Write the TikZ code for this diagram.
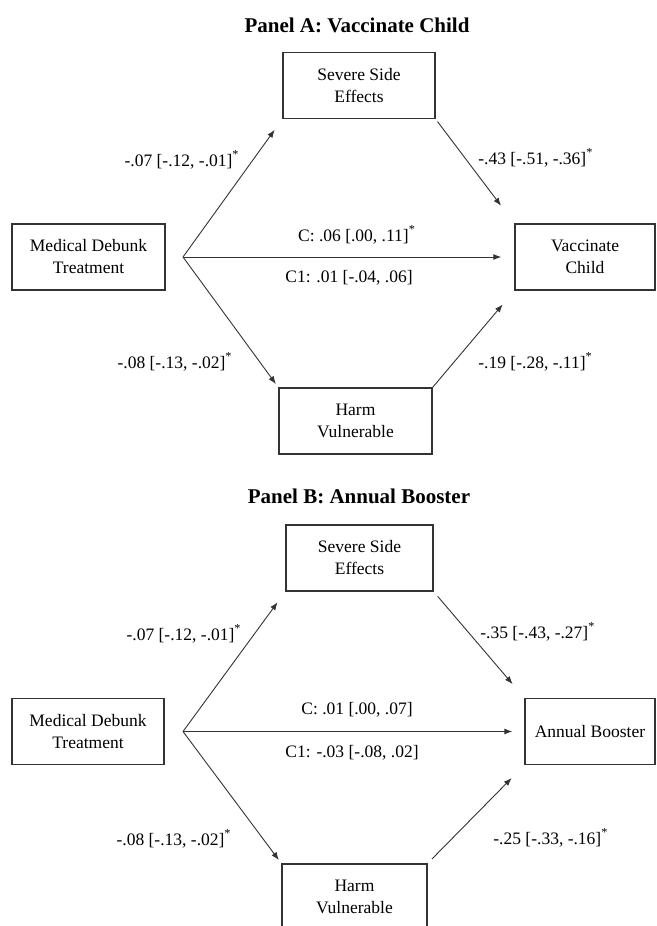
\documentclass[tikz,border=0pt]{standalone}
\usepackage{fontspec}
\setmainfont{Liberation Serif}
\usetikzlibrary{arrows.meta,calc}

\begin{document}
\begin{tikzpicture}[x=0.5pt,y=-0.5pt,
  box/.style={draw=black!80, line width=0.7pt, align=center, minimum height=33pt, inner sep=2pt, font=\fontsize{8.75}{11}\selectfont},
  lab/.style={font=\fontsize{8.75}{11}\selectfont, inner sep=0pt},
  paneltitle/.style={font=\fontsize{10.5}{12}\selectfont\bfseries},
  path/.style={draw=black!80, line width=0.45pt, -{Latex[length=4pt,width=3pt]}}]
\clip (0,0) rectangle (657,926);

% Panel A
\node[paneltitle] (titA) at (357,25) {Panel A: Vaccinate Child};
\node[box, minimum width=76pt] (sevA) at (359,85.5) {Severe Side\\Effects};
\node[box, minimum width=76.5pt] (medA) at (88.5,257) {Medical Debunk\\Treatment};
\node[box, minimum width=70pt] (vac) at (585,257) {Vaccinate\\Child};
\node[box, minimum width=76.5pt] (harmA) at (355.5,421) {Harm\\Vulnerable};
\coordinate (splitA) at (183,257);

\draw[path, shorten >=6.5pt] (splitA) -- (sevA.south west);
\draw[path, shorten <=1.5pt, shorten >=11pt] (sevA.south east) -- (vac.north west);
\draw[path, shorten >=6.5pt] (splitA) -- (vac.west);
\draw[path, shorten >=2pt] (splitA) -- (harmA.north west);
\draw[path, shorten >=9pt] (harmA.north east) -- (vac.south west);

\node[lab, anchor=east] (aA) at (240,160) {-.07 [-.12, -.01]\textsuperscript{*}};
\node[lab, anchor=west] (bA) at (478,158) {-.43 [-.51, -.36]\textsuperscript{*}};
\node[lab] (cA) at (357,235) {C: .06 [.00, .11]\textsuperscript{*}};
\node[lab] (cpA) at (349,278) {C1: .01 [-.04, .06]};
\node[lab, anchor=east] (dA) at (233,362) {-.08 [-.13, -.02]\textsuperscript{*}};
\node[lab, anchor=west] (eA) at (478,362) {-.19 [-.28, -.11]\textsuperscript{*}};

% Panel B
\node[paneltitle] (titB) at (359,496) {Panel B: Annual Booster};
\node[box, minimum width=73.5pt] (sevB) at (359.5,558) {Severe Side\\Effects};
\node[box, minimum width=76pt] (medB) at (88,731.5) {Medical Debunk\\Treatment};
\node[box, minimum width=65pt] (ann) at (590,731.5) {Annual Booster};
\node[box, minimum width=72.5pt] (harmB) at (354.5,897) {Harm\\Vulnerable};
\coordinate (splitB) at (183,731.5);

\draw[path, shorten >=6.5pt] (splitB) -- (sevB.south west);
\draw[path, shorten <=3pt, shorten >=9pt] (sevB.south east) -- (ann.north west);
\draw[path, shorten >=6pt] (splitB) -- (ann.west);
\draw[path, shorten >=2pt] (splitB) -- (harmB.north west);
\draw[path, shorten <=3pt, shorten >=9pt] (harmB.north east) -- (ann.south west);

\node[lab, anchor=east] (aB) at (242,634) {-.07 [-.12, -.01]\textsuperscript{*}};
\node[lab, anchor=west] (bB) at (480,632) {-.35 [-.43, -.27]\textsuperscript{*}};
\node[lab] (cB) at (357,710) {C: .01 [.00, .07]};
\node[lab] (cpB) at (352,753) {C1: -.03 [-.08, .02]};
\node[lab, anchor=east] (dB) at (232,839) {-.08 [-.13, -.02]\textsuperscript{*}};
\node[lab, anchor=west] (eB) at (493,838) {-.25 [-.33, -.16]\textsuperscript{*}};
\end{tikzpicture}
\end{document}
